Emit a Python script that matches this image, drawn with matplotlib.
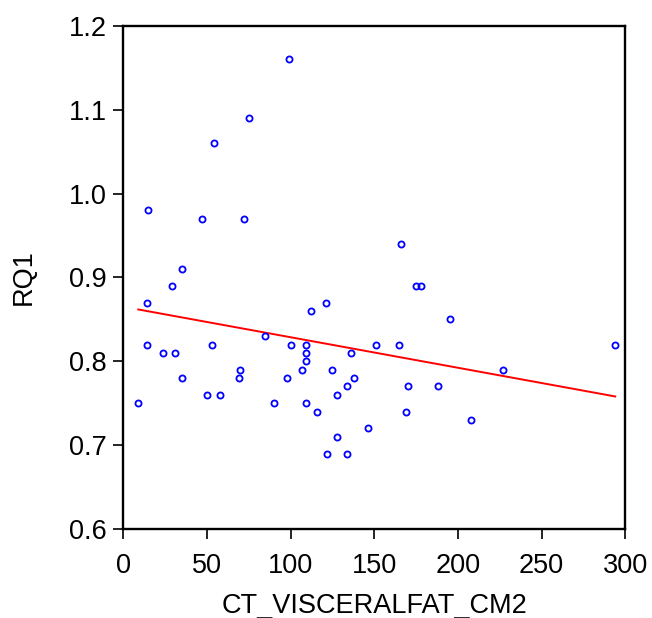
import numpy as np
import matplotlib
matplotlib.use("Agg")
import matplotlib.pyplot as plt

plt.rcParams['font.family'] = ['Liberation Sans', 'DejaVu Sans']

# Visceral fat area (cm2) and respiratory quotient per subject
visceral_fat = [99, 75, 54, 15, 47, 72, 35, 29, 14, 112, 121, 85,
                14, 53, 100, 109, 151, 24, 31, 109, 136, 109, 107, 70,
                125, 35, 69, 98, 138, 134, 50, 58, 128, 9, 90, 109,
                116, 146, 128, 122, 134, 166, 175, 178, 195, 165, 294, 227,
                170, 188, 169, 208]
rq1 = [1.16, 1.09, 1.06, 0.98, 0.97, 0.97, 0.91, 0.89, 0.87, 0.86, 0.87, 0.83,
       0.82, 0.82, 0.82, 0.82, 0.82, 0.81, 0.81, 0.81, 0.81, 0.80, 0.79, 0.79,
       0.79, 0.78, 0.78, 0.78, 0.78, 0.77, 0.76, 0.76, 0.76, 0.75, 0.75, 0.75,
       0.74, 0.72, 0.71, 0.69, 0.69, 0.94, 0.89, 0.89, 0.85, 0.82, 0.82, 0.79,
       0.77, 0.77, 0.74, 0.73]

x = np.array(visceral_fat, dtype=float)
y = np.array(rq1, dtype=float)

fig = plt.figure(figsize=(6.52, 6.18), dpi=100)
ax = fig.add_axes([0.189, 0.144, 0.770, 0.814])

ax.plot(x, y, linestyle='none', marker='o', markersize=4.4,
        markerfacecolor='none', markeredgecolor='#0000ff', markeredgewidth=1.3,
        zorder=3)

# Least-squares regression line across the observed range
slope, intercept = np.polyfit(x, y, 1)
xs = np.array([x.min(), x.max()])
ax.plot(xs, intercept + slope * xs, color='#ff0000', linewidth=1.4, zorder=2)

ax.set_xlim(0, 300)
ax.set_ylim(0.6, 1.2)
ax.set_xticks([0, 50, 100, 150, 200, 250, 300])
ax.set_yticks([0.6, 0.7, 0.8, 0.9, 1.0, 1.1, 1.2])
ax.set_yticklabels(['0.6', '0.7', '0.8', '0.9', '1.0', '1.1', '1.2'])

for s in ax.spines.values():
    s.set_linewidth(1.7)
    s.set_color('black')

ax.tick_params(direction='out', length=7, width=1.2, labelsize=19.5, pad=5,
               colors='black')
ax.tick_params(axis='x', pad=10)

ax.set_xlabel('CT_VISCERALFAT_CM2', fontsize=19.5, labelpad=10)
ax.set_ylabel('RQ1', fontsize=19.5, labelpad=23)

fig.savefig('out.png', dpi=100, facecolor='white')
